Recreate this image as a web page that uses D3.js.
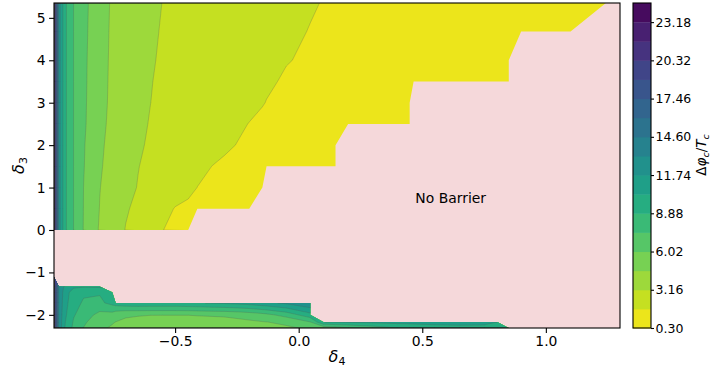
<!DOCTYPE html>
<html>
<head>
<meta charset="utf-8">
<script src="https://cdn.jsdelivr.net/npm/d3@7"></script>
<style>
  body { margin: 0; background: #fff; }
  text { font-family: "DejaVu Sans", sans-serif; }
</style>
</head>
<body>
<svg id="chart" width="710" height="369"></svg>
<script>
// grid columns (delta_4) and rows (delta_3)
const xs = [-0.99, -0.97, -0.946, -0.91, -0.87, -0.805, -0.754, -0.74, -0.70, -0.65,
            -0.60, -0.55, -0.50, -0.447, -0.41, -0.35, -0.30, -0.25, -0.20, -0.147,
            -0.13, -0.05, 0.047, 0.10, 0.149, 0.20, 0.30, 0.40, 0.449, 0.465,
            0.55, 0.65, 0.75, 0.804, 0.85, 0.90, 1.00, 1.10, 1.243, 1.30];
const ys = [-2.31, -2.17, -2.0, -1.72, -1.47, -1.33, -1.1, -0.5, 0, 0.5,
            1.0, 1.5, 2.0, 2.5, 3.0, 3.5, 4.0, 4.68, 5.35];

// delta phi_c / T_c per row (bottom to top), listed from the left edge;
// the points past the end of a row have no barrier
const zRows = [
  [22, 12.8, 10.3, 8.5, 7.4, 6.2, 5.9, 5.85, 5.7, 5.5, 5.35, 5.25, 5.2, 5.2, 5.2, 5.25, 5.3, 5.4, 5.5, 5.6, 5.65, 5.85, 6.2, 6.4, 6.8, 7.3, 8.1, 8.9, 9.2, 9.3, 9.6, 9.8, 9.9, 9.9, 9.8],
  [22, 12.8, 10.4, 8.7, 7.7, 6.5, 6.1, 6.0, 5.85, 5.7, 5.6, 5.5, 5.5, 5.5, 5.5, 5.55, 5.6, 5.7, 5.8, 5.95, 6.0, 6.25, 7.4, 10.3, 10.4, 10.5, 10.6, 10.8, 10.8, 10.8, 10.9, 10.9, 10.7, 10.3],
  [22, 12.9, 10.6, 9.0, 8.2, 7.0, 6.9, 6.5, 6.15, 6.1, 6.05, 6.05, 6.05, 6.05, 6.1, 6.15, 6.2, 6.35, 6.6, 6.95, 7.1, 8.0, 9.8],
  [22, 13, 10.8, 9.4, 8.7, 8.6, 9.3, 9.6, 9.9, 10.0, 10.0, 10.0, 10.0, 10.1, 10.2, 10.4, 10.5, 10.7, 10.9, 11.3, 11.4, 12.0, 13.0],
  [22, 13, 11, 9.6, 9.1, 9.0, 9.6],
  [22, 13.3, 11.4, 10.6, 10.5, 10.6],
  [20],
  [],
  [23, 12.5, 9.2, 7.4, 5.95, 4.45, 3.95, 3.8, 3.1, 2.6, 2.15, 1.75, 1.45, 1.2],
  [23, 12.5, 9.2, 7.4, 5.98, 4.56, 4.05, 3.9, 3.3, 2.85, 2.45, 2.07, 1.68, 1.5, 1.42, 1.33, 1.27, 1.21, 1.16],
  [23, 12.5, 9.2, 7.4, 6.0, 4.62, 4.12, 4.0, 3.58, 3.1, 2.72, 2.42, 2.2, 2.0, 1.72, 1.55, 1.45, 1.37, 1.3, 1.24],
  [23, 12.5, 9.2, 7.4, 6.08, 4.72, 4.15, 4.05, 3.66, 3.2, 2.84, 2.55, 2.34, 2.16, 1.98, 1.72, 1.58, 1.48, 1.4, 1.32, 1.3, 1.23, 1.17, 1.14, 1.11],
  [23, 12.5, 9.2, 7.4, 6.12, 4.8, 4.22, 4.13, 3.78, 3.35, 2.98, 2.68, 2.5, 2.35, 2.24, 2.05, 1.87, 1.71, 1.58, 1.46, 1.43, 1.33, 1.26, 1.23, 1.2],
  [23, 12.5, 9.2, 7.4, 6.22, 4.9, 4.3, 4.22, 3.88, 3.47, 3.08, 2.78, 2.62, 2.48, 2.38, 2.2, 2.03, 1.87, 1.71, 1.57, 1.53, 1.42, 1.35, 1.31, 1.27, 1.23, 1.16, 1.1, 1.07],
  [23, 12.5, 9.2, 7.4, 6.25, 4.95, 4.36, 4.28, 3.95, 3.55, 3.17, 2.86, 2.72, 2.6, 2.52, 2.37, 2.23, 2.08, 1.93, 1.77, 1.71, 1.58, 1.48, 1.43, 1.38, 1.33, 1.25, 1.18, 1.15],
  [23, 12.5, 9.2, 7.4, 6.28, 4.98, 4.38, 4.3, 4.0, 3.62, 3.22, 2.92, 2.79, 2.68, 2.6, 2.46, 2.33, 2.2, 2.06, 1.89, 1.83, 1.65, 1.55, 1.5, 1.45, 1.4, 1.31, 1.24, 1.2, 1.19, 1.13, 1.08, 1.03, 1.0, 0.97],
  [23, 12.5, 9.2, 7.4, 6.3, 5.0, 4.4, 4.32, 4.05, 3.7, 3.3, 2.98, 2.84, 2.74, 2.66, 2.53, 2.41, 2.29, 2.12, 1.99, 1.95, 1.76, 1.64, 1.57, 1.51, 1.45, 1.36, 1.28, 1.24, 1.23, 1.17, 1.11, 1.06, 1.03, 1.0],
  [23, 12.5, 9.2, 7.4, 6.35, 5.05, 4.42, 4.35, 4.12, 3.8, 3.4, 3.05, 2.9, 2.8, 2.72, 2.6, 2.48, 2.36, 2.24, 2.12, 2.08, 1.9, 1.7, 1.62, 1.56, 1.5, 1.4, 1.32, 1.28, 1.27, 1.21, 1.15, 1.09, 1.06, 1.03, 1.0, 0.95, 0.9],
  [23, 12.5, 9.2, 7.4, 6.4, 5.1, 4.45, 4.38, 4.18, 3.9, 3.55, 3.13, 2.95, 2.85, 2.78, 2.65, 2.53, 2.42, 2.3, 2.18, 2.14, 1.97, 1.8, 1.7, 1.63, 1.56, 1.45, 1.36, 1.32, 1.31, 1.25, 1.18, 1.12, 1.09, 1.06, 1.03, 0.98, 0.93, 0.85]
];

const bandLevels = [0.30, 1.73, 3.16, 4.59, 6.02, 7.45, 8.88, 10.31, 11.74, 13.17,
                    14.60, 16.03, 17.46, 18.89, 20.32, 21.75, 23.18, 24.61];
const cbTickLabels = ['0.30', '3.16', '6.02', '8.88', '11.74', '14.60', '17.46', '20.32', '23.18'];
const xTickValues = [-0.5, 0, 0.5, 1.0];
const xTickLabels = ['\u22120.5', '0.0', '0.5', '1.0'];
const yTickValues = [-2, -1, 0, 1, 2, 3, 4, 5];
const yTickLabels = ['\u22122', '\u22121', '0', '1', '2', '3', '4', '5'];

// layout
const plot = { left: 54, right: 620, top: 3, bottom: 328 };
const cbar = { left: 633, right: 651 };
const pink = '#f5d8da';
const nBands = bandLevels.length - 1;
const bandColor = k => d3.interpolateViridis(1 - (k + 0.5) / nBands);

const svg = d3.select('#chart');
svg.append('rect').attr('width', 710).attr('height', 369).attr('fill', '#fff');

const x = d3.scaleLinear().domain(d3.extent(xs)).range([plot.left, plot.right]);
const y = d3.scaleLinear().domain(d3.extent(ys)).range([plot.bottom, plot.top]);

const nx = xs.length, ny = ys.length;
const isValid = (i, j) => i < zRows[j].length;

// contour pass needs a full grid: masked points take the row's last value
const grid = [];
let lastRow = null;
zRows.forEach(row => {
    const out = d3.range(nx).map(i =>
        i < row.length ? row[i] : (row.length ? row[row.length - 1] : lastRow[i]));
    lastRow = out;
    grid.push(...out);
});

// cells with 3 or 4 valid corners are drawn (corner masking)
let cellsD = '';
for (let j = 0; j < ny - 1; j++) {
    for (let i = 0; i < nx - 1; i++) {
        const corners = [[i, j], [i + 1, j], [i + 1, j + 1], [i, j + 1]]
            .filter(([a, b]) => isValid(a, b));
        if (corners.length >= 3) {
            cellsD += 'M' + corners.map(([a, b]) => x(xs[a]) + ',' + y(ys[b])).join('L') + 'Z';
        }
    }
}
svg.append('defs').append('clipPath').attr('id', 'valid-cells')
    .append('path').attr('d', cellsD);

// no barrier background
svg.append('rect')
    .attr('x', plot.left).attr('y', plot.top)
    .attr('width', plot.right - plot.left).attr('height', plot.bottom - plot.top)
    .attr('fill', pink);

const contours = d3.contours().size([nx, ny]).thresholds(bandLevels.slice(0, -1))(grid);
const xi = d3.scaleLinear().domain(d3.range(nx)).range(xs).clamp(true);
const yi = d3.scaleLinear().domain(d3.range(ny)).range(ys).clamp(true);
const gridPath = d3.geoPath(d3.geoTransform({
    point(px, py) { this.stream.point(x(xi(px - 0.5)), y(yi(py - 0.5))); }
}));

const gMap = svg.append('g').attr('clip-path', 'url(#valid-cells)');
gMap.selectAll('path.band')
    .data(contours)
    .join('path')
    .attr('class', 'band')
    .attr('d', gridPath)
    .attr('fill', (d, k) => bandColor(k));
gMap.selectAll('path.level')
    .data(contours.slice(1))
    .join('path')
    .attr('class', 'level')
    .attr('d', gridPath)
    .attr('fill', 'none')
    .attr('stroke', '#555')
    .attr('stroke-opacity', 0.3)
    .attr('stroke-width', 0.8);

svg.append('text')
    .attr('x', x(0.615)).attr('y', y(0.63))
    .attr('text-anchor', 'middle')
    .attr('font-size', 13.9)
    .text('No Barrier');

// axes
const styleAxis = (g, size) => {
    g.attr('font-family', '"DejaVu Sans", sans-serif').attr('font-size', size);
    g.select('.domain').remove();
    g.selectAll('.tick line').attr('stroke', '#000').attr('stroke-width', 1.1);
    g.selectAll('.tick text').attr('fill', '#000');
};

svg.append('g')
    .attr('transform', 'translate(0,' + plot.bottom + ')')
    .call(d3.axisBottom(x).tickValues(xTickValues).tickFormat((d, i) => xTickLabels[i])
        .tickSize(4.9).tickPadding(3.5).tickSizeOuter(0))
    .call(g => styleAxis(g, 13.9));

svg.append('g')
    .attr('transform', 'translate(' + plot.left + ',0)')
    .call(d3.axisLeft(y).tickValues(yTickValues).tickFormat((d, i) => yTickLabels[i])
        .tickSize(4.9).tickPadding(3.5).tickSizeOuter(0))
    .call(g => styleAxis(g, 13.9));

svg.append('rect')
    .attr('x', plot.left).attr('y', plot.top)
    .attr('width', plot.right - plot.left).attr('height', plot.bottom - plot.top)
    .attr('fill', 'none').attr('stroke', '#000').attr('stroke-width', 1.1);

// axis labels
const xLabel = svg.append('text')
    .attr('x', (plot.left + plot.right) / 2).attr('y', 362)
    .attr('text-anchor', 'middle').attr('font-size', 16);
xLabel.append('tspan').attr('font-style', 'italic').text('\u03b4');
xLabel.append('tspan').attr('font-size', 11).attr('dy', 3).text('4');

const yLabel = svg.append('text')
    .attr('transform', 'translate(24,' + (plot.top + plot.bottom) / 2 + ') rotate(-90)')
    .attr('text-anchor', 'middle').attr('font-size', 16);
yLabel.append('tspan').attr('font-style', 'italic').text('\u03b4');
yLabel.append('tspan').attr('font-size', 11).attr('dy', 3).text('3');

// colorbar
const cy = d3.scaleLinear()
    .domain([bandLevels[0], bandLevels[nBands]])
    .range([plot.bottom, plot.top]);

svg.append('g').selectAll('rect')
    .data(d3.range(nBands))
    .join('rect')
    .attr('x', cbar.left)
    .attr('width', cbar.right - cbar.left)
    .attr('y', k => cy(bandLevels[k + 1]))
    .attr('height', k => cy(bandLevels[k]) - cy(bandLevels[k + 1]) + (k < nBands - 1 ? 0.5 : 0))
    .attr('fill', bandColor);

svg.append('g')
    .attr('transform', 'translate(' + cbar.right + ',0)')
    .call(d3.axisRight(cy).tickValues(cbTickLabels.map(Number)).tickFormat((d, i) => cbTickLabels[i])
        .tickSize(3).tickPadding(1.5).tickSizeOuter(0))
    .call(g => styleAxis(g, 12.5));

svg.append('rect')
    .attr('x', cbar.left).attr('y', plot.top)
    .attr('width', cbar.right - cbar.left).attr('height', plot.bottom - plot.top)
    .attr('fill', 'none').attr('stroke', '#000').attr('stroke-width', 1.1);

const cbLabel = svg.append('text')
    .attr('transform', 'translate(706,155) rotate(-90)')
    .attr('text-anchor', 'middle').attr('font-size', 13.5);
cbLabel.append('tspan').text('\u0394');
cbLabel.append('tspan').attr('font-style', 'italic').text('\u03c6');
cbLabel.append('tspan').attr('font-style', 'italic').attr('font-size', 9.5).attr('dy', 3).text('c');
cbLabel.append('tspan').attr('dy', -3).text('/');
cbLabel.append('tspan').attr('font-style', 'italic').text('T');
cbLabel.append('tspan').attr('font-style', 'italic').attr('font-size', 9.5).attr('dy', 3).text('c');
</script>
</body>
</html>
